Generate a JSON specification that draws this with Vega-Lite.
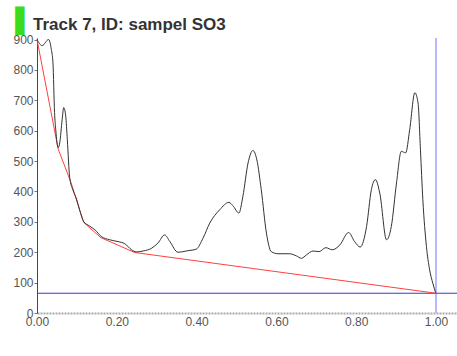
{
  "$schema": "https://vega.github.io/schema/vega-lite/v6.json",
  "width": 420,
  "height": 275,
  "autosize": {"type": "none"},
  "padding": {"left": 37, "top": 38, "right": 0, "bottom": 43},
  "background": "white",
  "title": {
    "text": "Track 7, ID: sampel SO3",
    "anchor": "start",
    "frame": "group",
    "font": "Liberation Sans",
    "fontSize": 17,
    "fontWeight": "bold",
    "color": "#333333",
    "dx": -4,
    "dy": 33,
    "offset": 8
  },
  "config": {
    "view": {"stroke": null},
    "axis": {"grid": false},
    "axisX": {
      "ticks": false, "labelPadding": 3, "domainColor": "#aaaaaa", "domainDash": [2, 1],
      "domainWidth": 2, "labelFont": "Liberation Sans", "labelFontSize": 12,
      "labelColor": "#555555", "labelFlush": false, "labelOverlap": false
    },
    "axisY": {
      "titleColor": "#3ddc1a", "titleFont": "DejaVu Sans", "titleFontSize": 24,
      "titleFontWeight": "normal", "titleAngle": 0, "titleAlign": "right", "titleBaseline": "alphabetic",
      "titleX": -13, "titleY": -10,
      "domainColor": "#3333ee", "tickColor": "#777777", "tickSize": 3,
      "labelFont": "Liberation Sans", "labelFontSize": 12, "labelColor": "#555555", "labelPadding": 1,
      "labelOverlap": false, "labelFlush": false
    }
  },
  "datasets": {
    "curve": [
      {"x": 0.000, "y": 900}, {"x": 0.013, "y": 880}, {"x": 0.029, "y": 900}, {"x": 0.036, "y": 867},
      {"x": 0.040, "y": 823}, {"x": 0.044, "y": 660}, {"x": 0.047, "y": 603}, {"x": 0.053, "y": 544},
      {"x": 0.057, "y": 560}, {"x": 0.063, "y": 636}, {"x": 0.067, "y": 676}, {"x": 0.072, "y": 648},
      {"x": 0.076, "y": 570}, {"x": 0.082, "y": 445}, {"x": 0.090, "y": 405}, {"x": 0.099, "y": 375},
      {"x": 0.107, "y": 338}, {"x": 0.117, "y": 301}, {"x": 0.132, "y": 286}, {"x": 0.145, "y": 274},
      {"x": 0.161, "y": 252}, {"x": 0.182, "y": 241}, {"x": 0.203, "y": 235}, {"x": 0.220, "y": 228},
      {"x": 0.237, "y": 208}, {"x": 0.249, "y": 201}, {"x": 0.266, "y": 204}, {"x": 0.287, "y": 213},
      {"x": 0.303, "y": 230}, {"x": 0.320, "y": 257}, {"x": 0.333, "y": 235}, {"x": 0.353, "y": 200},
      {"x": 0.378, "y": 205}, {"x": 0.399, "y": 210}, {"x": 0.416, "y": 246}, {"x": 0.433, "y": 296},
      {"x": 0.458, "y": 340}, {"x": 0.481, "y": 364}, {"x": 0.491, "y": 353}, {"x": 0.506, "y": 329},
      {"x": 0.516, "y": 384}, {"x": 0.529, "y": 494}, {"x": 0.541, "y": 535}, {"x": 0.551, "y": 504},
      {"x": 0.562, "y": 406}, {"x": 0.575, "y": 263}, {"x": 0.587, "y": 202}, {"x": 0.604, "y": 195},
      {"x": 0.633, "y": 195}, {"x": 0.650, "y": 188}, {"x": 0.663, "y": 180}, {"x": 0.675, "y": 191},
      {"x": 0.692, "y": 204}, {"x": 0.707, "y": 202}, {"x": 0.724, "y": 215}, {"x": 0.740, "y": 208},
      {"x": 0.759, "y": 224}, {"x": 0.781, "y": 265}, {"x": 0.796, "y": 235}, {"x": 0.810, "y": 217},
      {"x": 0.826, "y": 285}, {"x": 0.838, "y": 406}, {"x": 0.848, "y": 439}, {"x": 0.859, "y": 395},
      {"x": 0.876, "y": 241}, {"x": 0.888, "y": 285}, {"x": 0.901, "y": 428}, {"x": 0.913, "y": 532},
      {"x": 0.924, "y": 527}, {"x": 0.934, "y": 603}, {"x": 0.947, "y": 725}, {"x": 0.955, "y": 691},
      {"x": 0.961, "y": 537}, {"x": 0.967, "y": 373}, {"x": 0.976, "y": 219}, {"x": 0.984, "y": 142},
      {"x": 0.992, "y": 98}, {"x": 0.999, "y": 67}
    ],
    "baseline": [
      {"x": 0.000, "y": 900}, {"x": 0.053, "y": 540}, {"x": 0.085, "y": 430}, {"x": 0.117, "y": 298},
      {"x": 0.160, "y": 248}, {"x": 0.245, "y": 199}, {"x": 1.000, "y": 65}
    ],
    "vline": [{"x": 1.0}],
    "hline": [{"y": 65}]
  },
  "layer": [
    {
      "data": {"name": "vline"},
      "mark": {"type": "rule", "color": "#b8b8ff", "strokeWidth": 2},
      "encoding": {
        "x": {
          "field": "x", "type": "quantitative",
          "scale": {"domain": [0, 1.0526], "nice": false, "zero": false},
          "axis": {"title": null, "values": [0, 0.2, 0.4, 0.6, 0.8, 1.0], "format": ".2f"}
        }
      }
    },
    {
      "data": {"name": "hline"},
      "mark": {"type": "rule", "color": "#3a3ac8", "strokeWidth": 1},
      "encoding": {
        "y": {
          "field": "y", "type": "quantitative",
          "scale": {"domain": [0, 905], "nice": false},
          "axis": {"title": "▐", "values": [0, 100, 200, 300, 400, 500, 600, 700, 800, 900]}
        }
      }
    },
    {
      "data": {"name": "baseline"},
      "mark": {"type": "line", "color": "#ff4040", "strokeWidth": 1},
      "encoding": {
        "x": {
          "field": "x", "type": "quantitative",
          "axis": {"title": null, "values": [0, 0.2, 0.4, 0.6, 0.8, 1.0], "format": ".2f"}
        },
        "y": {
          "field": "y", "type": "quantitative",
          "axis": {"title": "▐", "values": [0, 100, 200, 300, 400, 500, 600, 700, 800, 900]}
        }
      }
    },
    {
      "data": {"name": "curve"},
      "mark": {"type": "line", "color": "#333333", "strokeWidth": 1, "interpolate": "monotone"},
      "encoding": {
        "x": {
          "field": "x", "type": "quantitative",
          "axis": {"title": null, "values": [0, 0.2, 0.4, 0.6, 0.8, 1.0], "format": ".2f"}
        },
        "y": {
          "field": "y", "type": "quantitative",
          "axis": {"title": "▐", "values": [0, 100, 200, 300, 400, 500, 600, 700, 800, 900]}
        }
      }
    }
  ]
}
